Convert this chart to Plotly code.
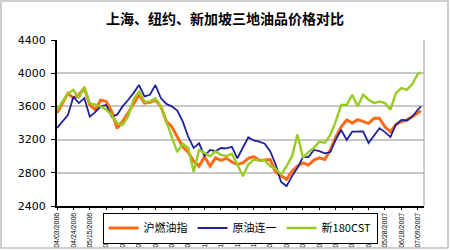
import plotly.graph_objects as go
import pandas as pd

# Weekly sample dates (Mondays from 2006-04-03) plus final trading day
dates = list(pd.date_range("2006-04-03", periods=67, freq="7D").strftime("%Y-%m-%d")) + ["2007-07-13"]

shfe_fuel = [3520, 3637, 3758, 3700, 3740, 3820, 3620, 3557, 3677, 3660,
             3540, 3336, 3420, 3520, 3637, 3740, 3640, 3650, 3677, 3600,
             3420, 3355, 3235, 3114, 3050, 2940, 2880, 2994, 2880, 2980,
             2950, 2974, 2930, 2900, 2920, 2975, 2994, 2950, 2954, 2960,
             2810, 2760, 2720, 2820, 2880, 2920, 2894, 2954, 2980, 2960,
             3075, 3230, 3355, 3436, 3400, 3440, 3416, 3396, 3456, 3456,
             3355, 3295, 3380, 3416, 3436, 3476, 3520, 3550]

nymex_crude = [3340, 3420, 3496, 3717, 3640, 3700, 3476, 3530, 3600, 3617,
               3476, 3500, 3600, 3677, 3760, 3858, 3720, 3740, 3858, 3700,
               3630, 3600, 3550, 3420, 3235, 3100, 3155, 3000, 3075, 3060,
               3099, 3095, 3114, 2975, 3100, 3227, 3190, 3176, 3150, 3060,
               2900, 2690, 2640, 2760, 2860, 2990, 2990, 3075, 3060, 3035,
               3050, 3200, 3316, 3195, 3295, 3300, 3300, 3160, 3250, 3336,
               3290, 3230, 3380, 3436, 3430, 3476, 3560, 3600]

sg_180cst = [3557, 3660, 3758, 3798, 3700, 3838, 3637, 3620, 3600, 3560,
             3496, 3400, 3376, 3480, 3680, 3778, 3657, 3660, 3697, 3600,
             3420, 3230, 3050, 3150, 3100, 2813, 3075, 3040, 3000, 3060,
             3015, 3000, 3030, 2900, 2760, 2900, 2960, 2950, 2950, 2880,
             2850, 2780, 2880, 3000, 3260, 2980, 3050, 3100, 3176, 3160,
             3255, 3420, 3617, 3620, 3740, 3600, 3740, 3680, 3640, 3660,
             3640, 3560, 3760, 3820, 3800, 3870, 3990, 4010]

tick_dates = list(pd.date_range("2006-04-03", periods=23, freq="21D").strftime("%Y-%m-%d"))
tick_text = [pd.Timestamp(d).strftime("%m/%d/%Y") for d in tick_dates]
y_ticks = [2400, 2800, 3200, 3600, 4000, 4400]

fig = go.Figure()
fig.add_trace(go.Scatter(x=dates, y=shfe_fuel, name="沪燃油指", mode="lines",
                         line=dict(color="#FF6A13", width=3)))
fig.add_trace(go.Scatter(x=dates, y=nymex_crude, name="原油连一", mode="lines",
                         line=dict(color="#22229A", width=1.8)))
fig.add_trace(go.Scatter(x=dates, y=sg_180cst, name="新180CST", mode="lines",
                         line=dict(color="#99CC22", width=2.4)))

fig.update_layout(
    width=450, height=250,
    margin=dict(l=57, r=26, t=40, b=44, autoexpand=False),
    paper_bgcolor="white", plot_bgcolor="white",
    title=dict(text="<b>上海、纽约、新加坡三地油品价格对比</b>",
               font=dict(family="Noto Sans CJK SC", size=14, color="black"),
               x=0.5, xanchor="center", y=0.925, yanchor="middle"),
    font=dict(family="DejaVu Sans", color="black"),
    showlegend=True,
    legend=dict(orientation="h", xref="container", yref="container",
                x=0.228, xanchor="left", y=0.15, yanchor="top",
                bgcolor="white", bordercolor="black", borderwidth=1,
                font=dict(family="Noto Sans CJK SC", size=11, color="black"),
                itemwidth=30, tracegroupgap=0),
)
fig.update_xaxes(type="date", range=["2006-04-03", "2007-07-17"], automargin=False,
                 tickvals=tick_dates, ticktext=tick_text, tickangle=-90,
                 tickfont=dict(family="Liberation Sans", size=7, color="black"),
                 showline=True, linecolor="black", linewidth=2,
                 ticks="outside", ticklen=2, tickcolor="black",
                 showgrid=False, zeroline=False)
fig.update_yaxes(range=[2400, 4400], tickvals=y_ticks, automargin=False,
                 tickfont=dict(family="DejaVu Sans", size=11, color="black"),
                 showline=True, linecolor="black", linewidth=2,
                 ticks="outside", ticklen=4, tickcolor="black", ticklabelstandoff=3,
                 showgrid=True, gridcolor="#C8C8C8", gridwidth=1.5, zeroline=False)

# plot area right border and outer chart border
fig.add_shape(type="line", xref="paper", yref="paper", x0=1, x1=1, y0=0, y1=1,
              line=dict(color="#A0A0A0", width=1))
fig.add_shape(type="rect", xref="paper", yref="paper",
              x0=-56/367, x1=391/367, y0=-42/166, y1=205/166,
              line=dict(color="#C0C0C0", width=1.5))

fig.write_html("out.html")
